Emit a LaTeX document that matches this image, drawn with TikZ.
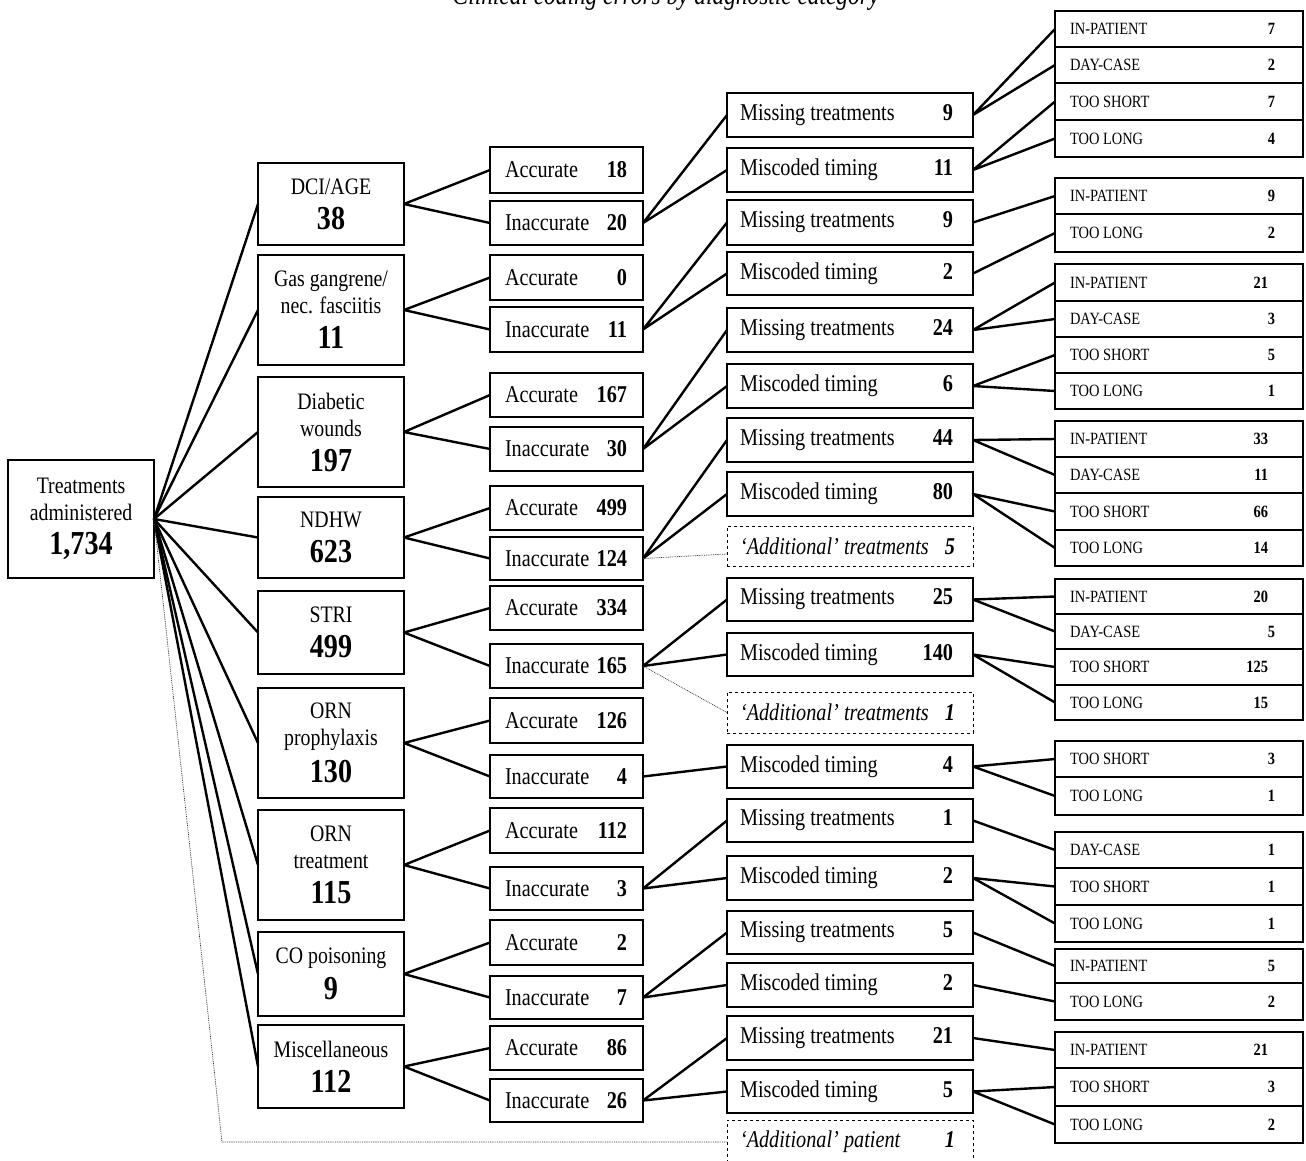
\documentclass[tikz,border=0pt]{standalone}
\usepackage{fontspec}
\setmainfont[FakeStretch=0.84]{Liberation Serif}
\usetikzlibrary{calc}
\newcommand\fA{\fontsize{24.1}{27}\selectfont}
\newcommand\fB{\fontsize{23.6}{27}\selectfont}
\newcommand\fN{\fontsize{33.5}{37}\selectfont\bfseries}
\newcommand\fS{\fontsize{17.2}{20}\selectfont}
\newcommand\fT{\fontsize{27.8}{31}\selectfont\itshape}
\newcommand\ctwo[2]{\makebox[153pt]{\hspace{15pt}#1\hfill\textbf{#2}\hspace{16pt}}}
\newcommand\cthr[2]{\makebox[246pt]{\hspace{13pt}#1\hfill\textbf{#2}\hspace{20pt}}}
\newcommand\cadd[2]{\makebox[246pt]{\hspace{13pt}\itshape #1\hfill\textbf{#2}\hspace{18pt}}}
\newcommand\cfou[3]{\makebox[248pt]{\hspace{15pt}#1\hfill\textbf{#2}\hspace{#3pt}}}
\tikzset{
  bx/.style={draw=black, line width=1.3pt, fill=white, inner sep=0pt, outer sep=0pt, anchor=north west},
  conn/.style={line width=2.4pt, line join=round},
  dotl/.style={line width=0.7pt, dash pattern=on 0.9pt off 0.9pt, black!80},
}
\newcommand\NL[4]{\node[bx,font=\fB,align=center,minimum width=146,minimum height={#3-#2}] (#1) at (258,#2) {#4};}
\newcommand\NT[5]{\node[bx,font=\fA,minimum width=153,minimum height={#3-#2}] (#1) at (490,#2) {\ctwo{#4}{#5}};}
\newcommand\NM[5]{\node[bx,font=\fA,minimum width=246,minimum height={#3-#2}] (#1) at (727,#2) {\cthr{#4}{#5}};}
\newcommand\NX[5]{\node[bx,dashed,line width=1pt,font=\fA,minimum width=246,minimum height={#3-#2}] (#1) at (727,#2) {\cadd{#4}{#5}};}
\newcommand\NP[6]{\node[bx,font=\fS,minimum width=248,minimum height={#3-#2}] (#1) at (1055,#2) {\cfou{#4}{#5}{#6}};}
\begin{document}
\begin{tikzpicture}[x=1pt,y=-1pt]
\useasboundingbox[fill=white] (0,0) rectangle (1306,1160);
\node[font=\fT, anchor=base] (ttl) at (666,4) {Clinical coding errors by diagnostic category};
% root
\node[bx,font=\fB,align=center,minimum width=146,minimum height=118] (r) at (8,460) {Treatments\\administered\\[7pt]{\fN 1,734}};
% level 1
\NL{d1}{163}{245}{DCI/AGE\\[8pt]{\fN 38}}
\NL{d2}{255}{365}{Gas gangrene/\\nec. fasciitis\\[8pt]{\fN 11}}
\NL{d3}{377}{487}{Diabetic\\wounds\\[8pt]{\fN 197}}
\NL{d4}{497}{578}{NDHW\\[8pt]{\fN 623}}
\NL{d5}{591}{674}{STRI\\[8pt]{\fN 499}}
\NL{d6}{688}{798}{ORN\\prophylaxis\\[8pt]{\fN 130}}
\NL{d7}{810}{920}{ORN\\treatment\\[8pt]{\fN 115}}
\NL{d8}{932}{1016}{CO poisoning\\[8pt]{\fN 9}}
\NL{d9}{1025}{1108}{Miscellaneous\\[8pt]{\fN 112}}
% level 2
\NT{a1}{147}{193}{Accurate}{18}
\NT{i1}{201}{245}{Inaccurate}{20}
\NT{a2}{255}{300}{Accurate}{0}
\NT{i2}{307}{352}{Inaccurate}{11}
\NT{a3}{373}{417}{Accurate}{167}
\NT{i3}{427}{471}{Inaccurate}{30}
\NT{a4}{486}{530}{Accurate}{499}
\NT{i4}{537}{580}{Inaccurate}{124}
\NT{a5}{586}{630}{Accurate}{334}
\NT{i5}{644}{688}{Inaccurate}{165}
\NT{a6}{698}{743}{Accurate}{126}
\NT{i6}{755}{798}{Inaccurate}{4}
\NT{a7}{808}{853}{Accurate}{112}
\NT{i7}{867}{910}{Inaccurate}{3}
\NT{a8}{920}{965}{Accurate}{2}
\NT{i8}{976}{1019}{Inaccurate}{7}
\NT{a9}{1026}{1070}{Accurate}{86}
\NT{i9}{1079}{1122}{Inaccurate}{26}
% level 3
\NM{m1}{93}{137}{Missing treatments}{9}
\NM{c1}{148}{192}{Miscoded timing}{11}
\NM{m2}{200}{245}{Missing treatments}{9}
\NM{c2}{252}{295}{Miscoded timing}{2}
\NM{m3}{308}{352}{Missing treatments}{24}
\NM{c3}{364}{408}{Miscoded timing}{6}
\NM{m4}{418}{462}{Missing treatments}{44}
\NM{c4}{472}{516}{Miscoded timing}{80}
\NX{x4}{526}{566}{`Additional' treatments}{5}
\NM{m5}{578}{621}{Missing treatments}{25}
\NM{c5}{633}{676}{Miscoded timing}{140}
\NX{x5}{692}{733}{`Additional' treatments}{1}
\NM{c6}{745}{788}{Miscoded timing}{4}
\NM{m7}{799}{842}{Missing treatments}{1}
\NM{c7}{856}{900}{Miscoded timing}{2}
\NM{m8}{911}{954}{Missing treatments}{5}
\NM{c8}{963}{1007}{Miscoded timing}{2}
\NM{m9}{1016}{1060}{Missing treatments}{21}
\NM{c9}{1070}{1113}{Miscoded timing}{5}
\NX{xp}{1120}{1164}{`Additional' patient}{1}
% level 4
\NP{p1a}{11}{47}{IN-PATIENT}{7}{28}
\NP{p1b}{47}{83}{DAY-CASE}{2}{28}
\NP{p1c}{83}{120}{TOO SHORT}{7}{28}
\NP{p1d}{120}{157}{TOO LONG}{4}{28}
\NP{p2a}{178}{214}{IN-PATIENT}{9}{28}
\NP{p2b}{214}{252}{TOO LONG}{2}{28}
\NP{p3a}{264}{301}{IN-PATIENT}{21}{35}
\NP{p3b}{301}{337}{DAY-CASE}{3}{28}
\NP{p3c}{337}{373}{TOO SHORT}{5}{28}
\NP{p3d}{373}{409}{TOO LONG}{1}{28}
\NP{p4a}{421}{457}{IN-PATIENT}{33}{35}
\NP{p4b}{457}{493}{DAY-CASE}{11}{35}
\NP{p4c}{493}{530}{TOO SHORT}{66}{35}
\NP{p4d}{530}{566}{TOO LONG}{14}{35}
\NP{p5a}{579}{614}{IN-PATIENT}{20}{35}
\NP{p5b}{614}{649}{DAY-CASE}{5}{28}
\NP{p5c}{649}{685}{TOO SHORT}{125}{35}
\NP{p5d}{685}{720}{TOO LONG}{15}{35}
\NP{p6a}{741}{777}{TOO SHORT}{3}{28}
\NP{p6b}{777}{815}{TOO LONG}{1}{28}
\NP{p7a}{832}{868}{DAY-CASE}{1}{28}
\NP{p7b}{868}{905}{TOO SHORT}{1}{28}
\NP{p7c}{905}{942}{TOO LONG}{1}{28}
\NP{p8a}{949}{983}{IN-PATIENT}{5}{28}
\NP{p8b}{983}{1020}{TOO LONG}{2}{28}
\NP{p9a}{1032}{1068}{IN-PATIENT}{21}{35}
\NP{p9b}{1068}{1106}{TOO SHORT}{3}{28}
\NP{p9c}{1106}{1143}{TOO LONG}{2}{28}
% connectors root -> level 1
\foreach \k in {1,...,9}{\draw[conn] (r.east) -- (d\k.west);}
% level 1 -> level 2
\foreach \k in {1,...,9}{\draw[conn] (a\k.west) -- (d\k.east) -- (i\k.west);}
% level 2 -> level 3
\foreach \k in {1,2,3,4,5,7,8,9}{\draw[conn] (m\k.west) -- (i\k.east) -- (c\k.west);}
\draw[conn] (i6.east) -- (c6.west);
% level 3 -> level 4
\draw[conn] (p1a.west) -- (m1.east) -- (p1b.west);
\draw[conn] (p1c.west) -- (c1.east) -- (p1d.west);
\draw[conn] (m2.east) -- (p2a.west);
\draw[conn] (c2.east) -- (p2b.west);
\draw[conn] (p3a.west) -- (m3.east) -- (p3b.west);
\draw[conn] (p3c.west) -- (c3.east) -- (p3d.west);
\draw[conn] (p4a.west) -- (m4.east) -- (p4b.west);
\draw[conn] (p4c.west) -- (c4.east) -- (p4d.west);
\draw[conn] (p5a.west) -- (m5.east) -- (p5b.west);
\draw[conn] (p5c.west) -- (c5.east) -- (p5d.west);
\draw[conn] (p6a.west) -- (c6.east) -- (p6b.west);
\draw[conn] (m7.east) -- (p7a.west);
\draw[conn] (p7b.west) -- (c7.east) -- (p7c.west);
\draw[conn] (m8.east) -- (p8a.west);
\draw[conn] (c8.east) -- (p8b.west);
\draw[conn] (m9.east) -- (p9a.west);
\draw[conn] (p9b.west) -- (c9.east) -- (p9c.west);
% dotted links to 'Additional' boxes
\draw[dotl] (i4.east) -- ($(x4.west)+(0,8)$);
\draw[dotl] (i5.east) -- (x5.west);
\coordinate (bend) at (222,1142);
\draw[dotl] (r.east) -- (bend) -- (xp.west |- bend);
\end{tikzpicture}
\end{document}
